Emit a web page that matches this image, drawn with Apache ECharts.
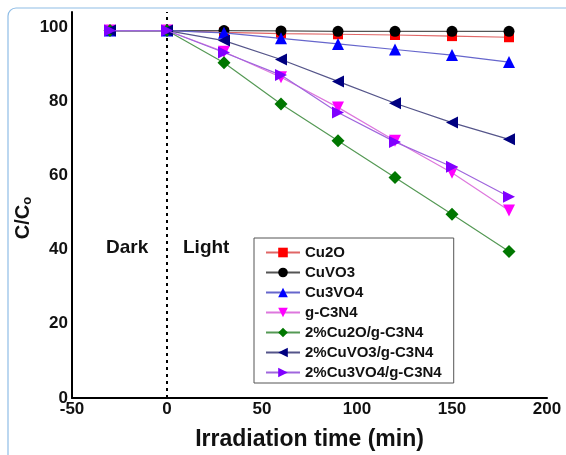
<!DOCTYPE html>
<html>
<head>
<meta charset="utf-8">
<script src="https://cdn.jsdelivr.net/npm/echarts@6/dist/echarts.min.js"></script>
<style>
    html, body { margin: 0; padding: 0; background: #fff; }
    #chart { width: 566px; height: 455px; }
</style>
</head>
<body>
<div id="chart"></div>
<script>
// Irradiation times (min)
var times = [-30, 0, 30, 60, 90, 120, 150, 180];

// C/C0 values per sample
var cu2o       = [99, 99, 98.5, 98.2, 98.0, 97.8, 97.5, 97.2];
var cuvo3      = [99, 99, 99.0, 98.9, 98.8, 98.8, 98.8, 98.8];
var cu3vo4     = [99, 99, 98.4, 96.9, 95.4, 93.9, 92.4, 90.5];
var gc3n4      = [99, 99, 93.3, 86.4, 78.3, 69.3, 60.7, 50.5];
var cu2oGc3n4  = [99, 99, 90.3, 79.2, 69.3, 59.4, 49.5, 39.5];
var cuvo3Gc3n4 = [99, 99, 96.3, 91.2, 85.3, 79.4, 74.2, 69.7];
var cu3vo4Gc3n4 = [99, 99, 93.1, 87.0, 76.9, 69.0, 62.3, 54.2];

var seriesNames = ['Cu2O', 'CuVO3', 'Cu3VO4', 'g-C3N4', '2%Cu2O/g-C3N4', '2%CuVO3/g-C3N4', '2%Cu3VO4/g-C3N4'];
var seriesData = [cu2o, cuvo3, cu3vo4, gc3n4, cu2oGc3n4, cuvo3Gc3n4, cu3vo4Gc3n4];

// Style per series: marker colour, line colour, symbol, rotation
var styles = [
    { color: '#ff0000', line: '#e06666', symbol: 'rect', rotate: 0, size: 10 },
    { color: '#000000', line: '#555555', symbol: 'circle', rotate: 0, size: 11 },
    { color: '#0000ff', line: '#6666cc', symbol: 'triangle', rotate: 0, size: 12 },
    { color: '#ff00ff', line: '#dd77dd', symbol: 'triangle', rotate: 180, size: 12 },
    { color: '#007700', line: '#559955', symbol: 'diamond', rotate: 0, size: 13 },
    { color: '#000080', line: '#55558a', symbol: 'triangle', rotate: 90, size: 12 },
    { color: '#8000ff', line: '#a066dd', symbol: 'triangle', rotate: -90, size: 12 }
];

var FONT = 'Arial, "Liberation Sans", sans-serif';

var chart = echarts.init(document.getElementById('chart'));

var series = seriesNames.map(function(name, i) {
    var st = styles[i];
    var s = {
        name: name,
        type: 'line',
        data: times.map(function(t, j) { return [t, seriesData[i][j]]; }),
        symbol: st.symbol,
        symbolSize: st.size,
        symbolRotate: st.rotate,
        showAllSymbol: true,
        itemStyle: { color: st.color },
        lineStyle: { color: st.line, width: 1.2 },
        emphasis: { disabled: true },
        z: 3 + i
    };
    if (i === 0) {
        // Dark / light boundary
        s.markLine = {
            silent: true,
            symbol: 'none',
            label: { show: false },
            lineStyle: { color: '#000', type: [3, 4], width: 2 },
            data: [{ xAxis: 0 }]
        };
    }
    return s;
});

var options = {
    animation: false,
    textStyle: { fontFamily: FONT },
    grid: { left: 72, right: 19, top: 12, bottom: 57, outerBoundsMode: 'none', containLabel: false },
    graphic: [
        {
            type: 'rect',
            shape: { x: 8, y: 8, width: 570, height: 460, r: 8 },
            style: { fill: 'none', stroke: '#8fbde6', lineWidth: 1.2 },
            z: -1
        },
        {
            // y axis title, placed a little below the axis middle as in the figure
            type: 'text', x: 23, y: 218, rotation: Math.PI / 2,
            style: {
                text: 'C/C{s|o}', font: 'bold 20px ' + FONT, fill: '#111',
                align: 'center', verticalAlign: 'middle',
                rich: { s: { font: 'bold 13px ' + FONT, fill: '#111', padding: [8, 0, 0, 0] } }
            }
        },
        {
            type: 'text', left: 106, top: 238,
            style: { text: 'Dark', font: 'bold 19px ' + FONT, fill: '#111' }
        },
        {
            type: 'text', left: 183, top: 238,
            style: { text: 'Light', font: 'bold 19px ' + FONT, fill: '#111' }
        }
    ],
    legend: {
        orient: 'vertical',
        left: 254,
        top: 238,
        padding: [7, 12, 3, 11],
        itemGap: 5,
        itemWidth: 34,
        itemHeight: 12,
        backgroundColor: '#fff',
        borderColor: '#555',
        borderWidth: 1,
        borderRadius: 0,
        textStyle: { fontSize: 15, fontWeight: 'bold', color: '#111', fontFamily: FONT },
        data: seriesNames
    },
    xAxis: {
        type: 'value',
        min: -50,
        max: 200,
        interval: 50,
        name: 'Irradiation time (min)',
        nameLocation: 'middle',
        nameGap: 30,
        nameTextStyle: { fontSize: 23, fontWeight: 'bold', color: '#111' },
        axisLine: { onZero: false, lineStyle: { color: '#000', width: 2 } },
        axisTick: { show: false },
        splitLine: { show: false },
        axisLabel: { fontSize: 17, fontWeight: 'bold', color: '#111', margin: 3 }
    },
    yAxis: {
        type: 'value',
        min: 0,
        max: 104,
        interval: 20,
        axisLine: { show: true, onZero: false, lineStyle: { color: '#000', width: 2 } },
        axisTick: { show: false },
        splitLine: { show: false },
        axisLabel: {
            fontSize: 17, fontWeight: 'bold', color: '#111', margin: 4,
            formatter: function(v) { return v > 100 ? '' : v; }
        }
    },
    series: series
};

chart.setOption(options);
</script>
</body>
</html>
